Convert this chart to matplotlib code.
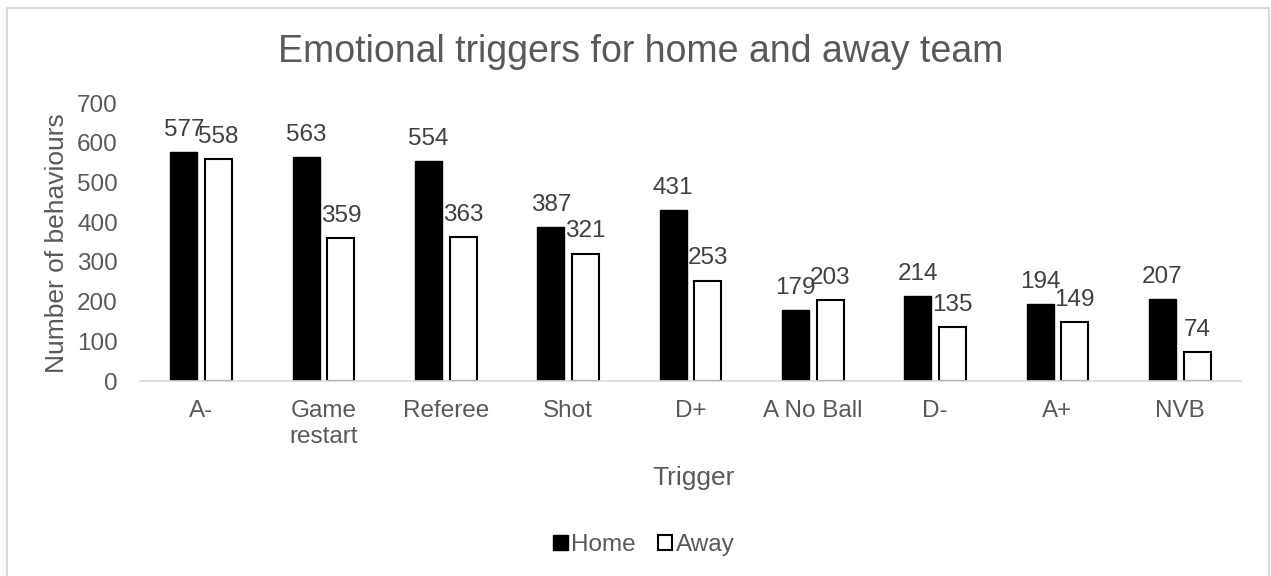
import numpy as np
import matplotlib.pyplot as plt
from matplotlib.patches import Rectangle

triggers = ['A-', 'Game\nrestart', 'Referee', 'Shot', 'D+', 'A No Ball', 'D-', 'A+', 'NVB']
home = [577, 563, 554, 387, 431, 179, 214, 194, 207]
away = [558, 359, 363, 321, 253, 203, 135, 149, 74]

plt.rcParams['font.family'] = ['Liberation Sans', 'DejaVu Sans']
grey = '#595959'
W, H = 1271, 576

fig = plt.figure(figsize=(W / 100, H / 100), dpi=100)
ax = fig.add_axes([140 / W, 1 - 381 / H, 1101 / W, 278 / H])

# chart area border (bottom edge runs off the image)
fig.patches.append(Rectangle((7 / W, -10 / H), 1262 / W, (H + 10 - 7.5) / H,
                             transform=fig.transFigure, fill=False,
                             edgecolor='#d9d9d9', linewidth=1.5))

x = np.arange(len(triggers))
w = 0.22
off = 0.142
b1 = ax.bar(x - off, home, w, color='black', edgecolor='black', linewidth=1, label='Home')
b2 = ax.bar(x + off, away, w, color='white', edgecolor='black', linewidth=1.5, label='Away')

for bars, vals in ((b1, home), (b2, away)):
    for r, v in zip(bars, vals):
        ax.annotate(str(v), (r.get_x() + r.get_width() / 2, v), xytext=(0, 8),
                    textcoords='offset points', ha='center', va='bottom',
                    fontsize=17.5, color='#404040')

ax.set_xlim(-0.5, len(triggers) - 0.5)
ax.set_ylim(0, 700)
ax.set_yticks(range(0, 701, 100))
ax.set_xticks(x)
ax.set_xticklabels(triggers, va='top', linespacing=1.2)
ax.tick_params(axis='both', length=0, labelsize=17.5, labelcolor=grey)
ax.tick_params(axis='x', pad=14)
ax.tick_params(axis='y', pad=16)
for s in ('top', 'right', 'left'):
    ax.spines[s].set_visible(False)
ax.spines['bottom'].set_color('#d9d9d9')
ax.spines['bottom'].set_linewidth(1.2)

fig.text(57 / W, 1 - 243 / H, 'Number of behaviours', rotation=90,
         ha='center', va='center', fontsize=19, color=grey)
fig.text(694 / W, 1 - 478 / H, 'Trigger', ha='center', va='center',
         fontsize=19, color=grey)
fig.text(641 / W, 1 - 52 / H, 'Emotional triggers for home and away team',
         ha='center', va='center', fontsize=27, color=grey)

fig.legend(handles=[b1, b2], loc='center', bbox_to_anchor=(644 / W, 1 - 545 / H),
           ncol=2, frameon=False, fontsize=17.5, labelcolor=grey,
           handlelength=0.6, handleheight=0.6, handletextpad=0.15, columnspacing=0.9)

fig.savefig('out.png', dpi=100)
